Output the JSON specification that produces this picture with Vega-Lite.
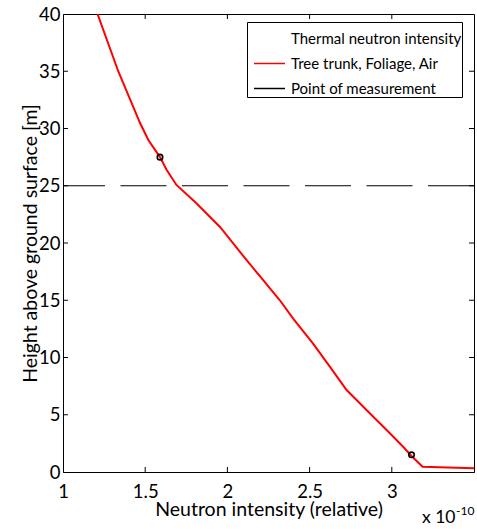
{
  "$schema": "https://vega.github.io/schema/vega-lite/v6.json",
  "autosize": {"type": "none"},
  "width": 411,
  "height": 458,
  "padding": {"left": 63, "top": 14, "right": 3, "bottom": 57},
  "background": "white",
  "config": {
    "font": "Lato",
    "view": {"stroke": "black", "strokeWidth": 1, "fill": null},
    "axis": {
      "grid": false,
      "domainColor": "black",
      "labelColor": "black",
      "titleColor": "black",
      "labelFont": "Lato",
      "titleFont": "Lato",
      "labelFontSize": 18.5,
      "titleFontSize": 19.5,
      "titleFontWeight": "normal",
      "domainWidth": 1,
      "ticks": false
    }
  },
  "datasets": {
    "curve": [
      {"intensity": 1.21, "height": 40},
      {"intensity": 1.336, "height": 35},
      {"intensity": 1.468, "height": 30.5},
      {"intensity": 1.519, "height": 29},
      {"intensity": 1.59, "height": 27.5},
      {"intensity": 1.63, "height": 26.4},
      {"intensity": 1.69, "height": 25.07},
      {"intensity": 1.81, "height": 23.5},
      {"intensity": 1.955, "height": 21.4},
      {"intensity": 2.117, "height": 18.5},
      {"intensity": 2.2, "height": 17.06},
      {"intensity": 2.319, "height": 15.0},
      {"intensity": 2.4, "height": 13.4},
      {"intensity": 2.52, "height": 11.24},
      {"intensity": 2.623, "height": 9.2},
      {"intensity": 2.725, "height": 7.16},
      {"intensity": 2.866, "height": 5.13},
      {"intensity": 2.988, "height": 3.38},
      {"intensity": 3.069, "height": 2.2},
      {"intensity": 3.12, "height": 1.4},
      {"intensity": 3.187, "height": 0.46},
      {"intensity": 3.5, "height": 0.32}
    ],
    "measure": [
      {"intensity": 1.59, "height": 27.5},
      {"intensity": 3.12, "height": 1.5}
    ],
    "xticks": [{"v": 1.5}, {"v": 2}, {"v": 2.5}, {"v": 3}],
    "yticks": [{"v": 5}, {"v": 10}, {"v": 15}, {"v": 20}, {"v": 25}, {"v": 30}, {"v": 35}]
  },
  "resolve": {"axis": {"x": "independent", "y": "independent"}},
  "layer": [
    {
      "data": {"name": "curve"},
      "mark": {"type": "line", "strokeWidth": 2, "clip": true},
      "encoding": {
        "x": {
          "field": "intensity", "type": "quantitative",
          "scale": {"domain": [1, 3.5], "nice": false, "zero": false},
          "axis": {"values": [1, 1.5, 2, 2.5, 3], "format": "~g", "title": "Neutron intensity (relative)", "labelPadding": 10, "titlePadding": 0, "labelFlush": false, "labelOverlap": false}
        },
        "y": {
          "field": "height", "type": "quantitative",
          "scale": {"domain": [0, 40], "nice": false, "zero": false},
          "axis": {"values": [0, 5, 10, 15, 20, 25, 30, 35, 40], "title": "Height above ground surface [m]", "labelPadding": 3, "titlePadding": -2, "labelFlush": false, "labelOverlap": false}
        },
        "color": {
          "datum": "Tree trunk, Foliage, Air",
          "type": "nominal",
          "scale": {
            "domain": ["Thermal neutron intensity", "Tree trunk, Foliage, Air", "Point of measurement"],
            "range": ["rgba(0,0,0,0)", "#ff0000", "#000000"]
          },
          "legend": {
            "title": null,
            "orient": "none",
            "legendX": 184,
            "legendY": 8,
            "strokeColor": "black",
            "fillColor": "white",
            "padding": 0,
            "symbolOffset": 6,
            "symbolType": "stroke",
            "symbolSize": 961,
            "symbolStrokeWidth": 1.5,
            "labelFont": "Lato",
            "labelFontSize": 15,
            "labelColor": "black",
            "labelOffset": 5,
            "labelLimit": 400,
            "rowPadding": -9.5,
            "cornerRadius": 0,
            "zindex": 2
          }
        }
      }
    },
    {
      "data": {"values": [{}]},
      "mark": {"type": "rule", "color": "black", "strokeWidth": 1, "strokeDash": [46, 15.5]},
      "encoding": {"y": {"datum": 25, "type": "quantitative", "axis": null}}
    },
    {
      "data": {"name": "xticks"},
      "mark": {"type": "rule", "color": "black", "strokeWidth": 1},
      "encoding": {
        "x": {"field": "v", "type": "quantitative", "axis": null},
        "y": {"datum": 0, "type": "quantitative", "axis": null},
        "y2": {"datum": 0.44}
      }
    },
    {
      "data": {"name": "xticks"},
      "mark": {"type": "rule", "color": "black", "strokeWidth": 1},
      "encoding": {
        "x": {"field": "v", "type": "quantitative", "axis": null},
        "y": {"datum": 40, "type": "quantitative", "axis": null},
        "y2": {"datum": 39.56}
      }
    },
    {
      "data": {"name": "yticks"},
      "mark": {"type": "rule", "color": "black", "strokeWidth": 1},
      "encoding": {
        "y": {"field": "v", "type": "quantitative", "axis": null},
        "x": {"datum": 1, "type": "quantitative", "axis": null},
        "x2": {"datum": 1.03}
      }
    },
    {
      "data": {"name": "yticks"},
      "mark": {"type": "rule", "color": "black", "strokeWidth": 1},
      "encoding": {
        "y": {"field": "v", "type": "quantitative", "axis": null},
        "x": {"datum": 3.5, "type": "quantitative", "axis": null},
        "x2": {"datum": 3.47}
      }
    },
    {
      "data": {"name": "measure"},
      "mark": {"type": "point", "shape": "circle", "filled": false, "color": "black", "strokeWidth": 1.6, "size": 30, "opacity": 1},
      "encoding": {
        "x": {"field": "intensity", "type": "quantitative", "axis": null},
        "y": {"field": "height", "type": "quantitative", "axis": null}
      }
    },
    {
      "data": {"values": [{"t": "x 10"}]},
      "mark": {"type": "text", "align": "left", "baseline": "alphabetic", "dx": -52, "dy": 51, "fontSize": 17.5, "font": "Lato", "color": "black", "clip": false},
      "encoding": {
        "x": {"datum": 3.5, "type": "quantitative", "axis": null},
        "y": {"datum": 0, "type": "quantitative", "axis": null},
        "text": {"field": "t"}
      }
    },
    {
      "data": {"values": [{"t": "-10"}]},
      "mark": {"type": "text", "align": "left", "baseline": "middle", "dx": -18, "dy": 39, "fontSize": 12, "font": "Lato", "color": "black", "clip": false},
      "encoding": {
        "x": {"datum": 3.5, "type": "quantitative", "axis": null},
        "y": {"datum": 0, "type": "quantitative", "axis": null},
        "text": {"field": "t"}
      }
    }
  ]
}
